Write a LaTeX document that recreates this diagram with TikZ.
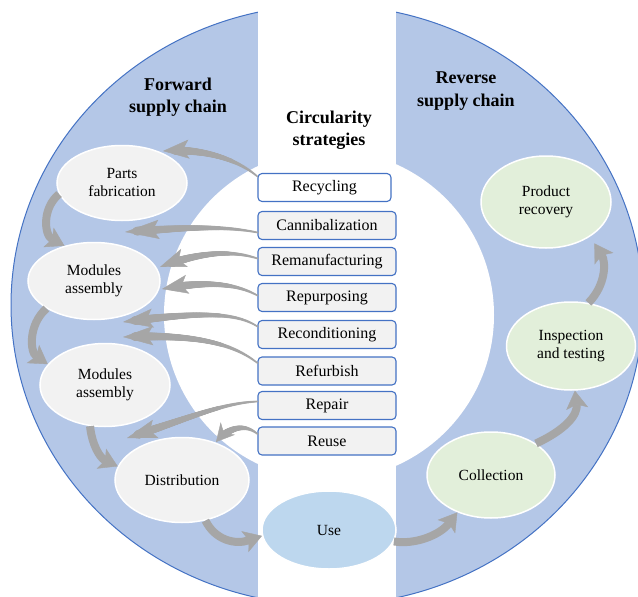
\documentclass[tikz,border=0pt]{standalone}
\usepackage{fontspec}
\setmainfont{Liberation Serif}
\usetikzlibrary{shapes.geometric,arrows.meta,decorations.markings,calc}
\definecolor{ringblue}{RGB}{180,199,231}
\definecolor{ringedge}{RGB}{68,114,196}
\definecolor{boxedge}{RGB}{68,114,196}
\definecolor{boxfill}{RGB}{242,242,242}
\definecolor{greyell}{RGB}{242,242,242}
\definecolor{useblue}{RGB}{189,215,238}
\definecolor{greenell}{RGB}{226,239,218}
\definecolor{arrowgrey}{RGB}{166,166,166}
\tikzset{
  ttl/.style={align=center, inner sep=0pt, font=\fontsize{18}{22.5}\selectfont\bfseries},
  strbox/.style={draw=boxedge, fill=boxfill, rounded corners=4pt, line width=1.1pt,
    minimum width=138pt, minimum height=28pt, inner sep=0pt, font=\fontsize{16}{18}\selectfont},
  ell/.style 2 args={ellipse, draw=white, line width=1.5pt, inner sep=0pt, align=center,
    minimum width=#1pt, minimum height=#2pt, font=\fontsize{15.5}{18}\selectfont},
  strat/.style={draw=arrowgrey, line width=0.6pt,
    -{Stealth[length=#1,width=19pt,inset=6pt,line width=0.4pt]},
    postaction={decorate, decoration={markings,
    mark=between positions 0 and -12pt step 0.6pt with {%
      \pgfmathsetmacro\tpr{0.9+3.8*(\pgfkeysvalueof{/pgf/decoration/mark info/distance from start})/(\pgfdecoratedpathlength)}%
      \fill[arrowgrey] (0pt,0pt) circle[radius=\tpr pt];}}}},
  strat/.default=26pt,
  chainarr/.style={draw=arrowgrey, line width=8pt,
    -{Stealth[length=18pt,width=22pt,inset=4pt,line width=0.4pt]}}
}
\begin{document}
\begin{tikzpicture}[x=1pt,y=-1pt]
\useasboundingbox (0,0) rectangle (638,597);
\fill[white] (0,0) rectangle (638,597);
% ring
\fill[ringblue, draw=ringedge, line width=1pt] (327,305) ellipse [x radius=316pt, y radius=300pt];
\fill[white] (329,315) circle[radius=165pt];
\fill[white] (258,-5) rectangle (396,605);
% titles
\node[ttl] (fw) at (178,97) {Forward\\supply chain};
\node[ttl] (rv) at (466,91) {Reverse\\supply chain};
\node[ttl] (cs) at (329,130) {Circularity\\strategies};
% strategy boxes
\node[strbox, fill=white, minimum width=133pt] (b1) at (324.5,187.5) {Recycling};
\node[strbox] (b2) at (327,225.5) {Cannibalization};
\node[strbox] (b3) at (327,261.5) {Remanufacturing};
\node[strbox] (b4) at (327,297.5) {Repurposing};
\node[strbox] (b5) at (327,334.5) {Reconditioning};
\node[strbox] (b6) at (327,371) {Refurbish};
\node[strbox] (b7) at (327,405.5) {Repair};
\node[strbox] (b8) at (327,441) {Reuse};
% ellipses
\node[ell={130}{75}, fill=greyell] (pf) at (122,183) {Parts\\fabrication};
\node[ell={132}{77}, fill=greyell] (ma1) at (94,281) {Modules\\assembly};
\node[ell={130}{83}, fill=greyell] (ma2) at (105,385) {Modules\\assembly};
\node[ell={134}{85}, fill=greyell] (dist) at (182,480) {Distribution};
\node[ell={134}{78}, fill=useblue] (use) at (329,530) {Use};
\node[ell={128}{86}, fill=greenell] (coll) at (491,475) {Collection};
\node[ell={129}{88}, fill=greenell] (insp) at (571,346) {Inspection\\and testing};
\node[ell={130}{92}, fill=greenell] (prec) at (546,202) {Product\\recovery};
% arrow tips of strategy arrows
\coordinate (t1) at (163,151);
\coordinate (t2) at (125,232);
\coordinate (t3) at (160,267);
\coordinate (t4) at (162,289);
\coordinate (t5) at (123,322);
\coordinate (t6) at (123,337);
\coordinate (t7) at (127,438);
\coordinate (t8) at (216,442);
% strategy arrows
\draw[strat] ($(b1.west)+(0,-11)$) .. controls (238,160) and (205,148) .. (t1);
\draw[strat=34pt] ($(b2.west)+(0,7)$) .. controls (225,226) and (190,227) .. (t2);
\draw[strat] ($(b3.west)+(0,-3)$) .. controls (232,250) and (200,252) .. (t3);
\draw[strat] ($(b4.west)+(0,-2)$) .. controls (235,283) and (205,281) .. (t4);
\draw[strat=30pt] ($(b5.west)+(0,-8)$) .. controls (235,312) and (200,312) .. (t5);
\draw[strat=30pt] ($(b6.west)+(0,-8)$) .. controls (232,343) and (195,334) .. (t6);
\draw[strat=30pt] ($(b7.west)+(0,-4)$) .. controls (222,403) and (190,418) .. (t7);
\draw[strat=18pt] ($(b8.west)+(0,-7)$) .. controls (246,424) and (230,426) .. (t8);
% chain arrows
\draw[chainarr] (pf.190) .. controls (42,208) and (44,235) .. (ma1.130);
\draw[chainarr] (ma1.210) .. controls (28,325) and (30,352) .. (ma2.160);
\draw[chainarr] (ma2.250) .. controls (92,445) and (100,458) .. (dist.168);
\draw[chainarr] (dist.300) .. controls (215,540) and (235,545) .. (use.185);
\draw[chainarr] (use.350) .. controls (415,545) and (440,535) .. (coll.228);
\draw[chainarr] (coll.35) .. controls (565,430) and (578,415) .. (insp.275);
\draw[chainarr, shorten >=8pt] (insp.68) .. controls (606,285) and (606,262) .. (prec.322);
\end{tikzpicture}
\end{document}
